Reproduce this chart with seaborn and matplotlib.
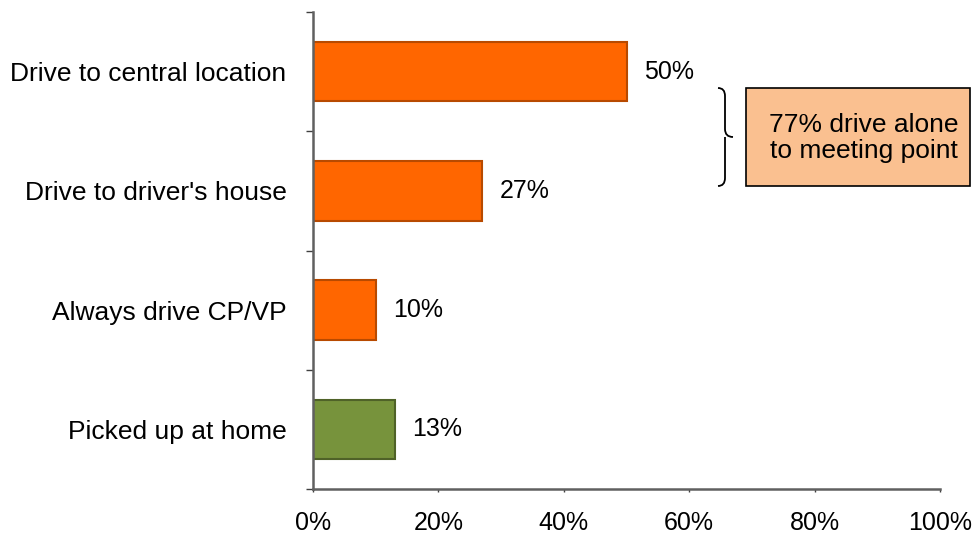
import matplotlib
matplotlib.use("Agg")
import matplotlib.pyplot as plt
import seaborn as sns
import pandas as pd
from matplotlib.path import Path
from matplotlib.patches import PathPatch, Rectangle
from matplotlib.ticker import FixedLocator, PercentFormatter

categories = ["Drive to central location", "Drive to driver's house",
              "Always drive CP/VP", "Picked up at home"]
shares = [50, 27, 10, 13]
bar_colors = ["#FF6600", "#FF6600", "#FF6600", "#77933C"]
edge_colors = ["#B84A00", "#B84A00", "#B84A00", "#4F6228"]
x_ticks = [0, 20, 40, 60, 80, 100]
callout_text = "77% drive alone\nto meeting point"

sns.set_theme(style="white")
plt.rcParams["font.family"] = ["Liberation Sans", "DejaVu Sans"]
plt.rcParams["text.color"] = "black"
plt.rcParams["xtick.color"] = "black"
plt.rcParams["ytick.color"] = "black"

W, H = 976, 533
fig = plt.figure(figsize=(W / 100, H / 100), dpi=100)
ax = fig.add_axes([313 / W, 1 - 489 / H, (940 - 313) / W, (489 - 12) / H])

df = pd.DataFrame({"category": categories, "share": shares})
sns.barplot(data=df, x="share", y="category", hue="category",
            palette=dict(zip(categories, bar_colors)), legend=False,
            width=0.5, orient="h", ax=ax, saturation=1)

for patch, ec in zip(ax.patches, edge_colors):
    patch.set_edgecolor(ec)
    patch.set_linewidth(1.5)

for i, v in enumerate(shares):
    ax.text(v + 2.8, i, f"{v}%", va="center", ha="left", fontsize=18,
            color="black")

ax.set_xlim(0, 100)
ax.set_ylim(3.5, -0.5)
ax.xaxis.set_major_locator(FixedLocator(x_ticks))
ax.xaxis.set_major_formatter(PercentFormatter(decimals=0))
ax.set_xlabel("")
ax.set_ylabel("")

# category labels centred on bars, tick marks at category boundaries
ax.set_yticks(range(len(categories)))
ax.set_yticklabels(categories, fontsize=19, color="black")
ax.yaxis.set_minor_locator(FixedLocator([-0.5, 0.5, 1.5, 2.5, 3.5]))
ax.tick_params(axis="y", which="major", length=0, pad=19)
ax.tick_params(axis="y", which="minor", length=5, width=1, color="#404040",
               left=True)
ax.tick_params(axis="x", which="major", length=2.5, width=1, color="#404040",
               bottom=True, labelsize=18, labelcolor="black", pad=13)

for side in ("top", "right"):
    ax.spines[side].set_visible(False)
for side in ("left", "bottom"):
    ax.spines[side].set_color("#606060")
    ax.spines[side].set_linewidth(1.8)
ax.grid(False)


def fx(px):
    return px / W


def fy(py):
    return 1 - py / H


# curly brace grouping the first two bars
x0, x1, xm = 718, 725, 733
ya, yb = 88, 186
ym = (ya + yb) / 2
verts = [
    (fx(x0), fy(ya)),
    (fx(x1), fy(ya)), (fx(x1), fy(ya + 8)),
    (fx(x1), fy(ym - 8)),
    (fx(x1), fy(ym)), (fx(xm), fy(ym)),
    (fx(x1), fy(ym)), (fx(x1), fy(ym + 8)),
    (fx(x1), fy(yb - 8)),
    (fx(x1), fy(yb)), (fx(x0), fy(yb)),
]
codes = [Path.MOVETO,
         Path.CURVE3, Path.CURVE3,
         Path.LINETO,
         Path.CURVE3, Path.CURVE3,
         Path.MOVETO, Path.CURVE3,
         Path.LINETO,
         Path.CURVE3, Path.CURVE3]
fig.patches.append(PathPatch(Path(verts, codes), transform=fig.transFigure,
                             facecolor="none", edgecolor="black", lw=1.3))

# callout box
bx0, bx1, by0, by1 = 746, 970, 88, 186
fig.patches.append(Rectangle((fx(bx0), fy(by1)), fx(bx1 - bx0),
                             (by1 - by0) / H, transform=fig.transFigure,
                             facecolor="#FAC090", edgecolor="black", lw=1.2))
fig.text(fx((bx0 + bx1) / 2 + 6), fy((by0 + by1) / 2 + 1), callout_text,
         ha="center", va="center", fontsize=19, linespacing=1.15,
         color="black")

fig.savefig("out.png", dpi=100)
